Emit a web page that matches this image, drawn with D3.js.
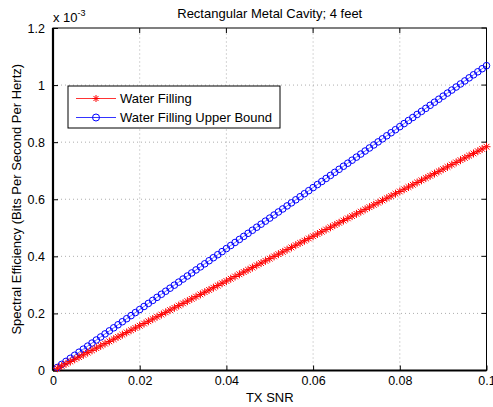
<!DOCTYPE html>
<html><head><meta charset="utf-8">
<script src="https://cdn.jsdelivr.net/npm/d3@7"></script>
<style>body{margin:0;background:#fff}svg{display:block;font-family:"Liberation Sans",Arial,sans-serif}</style>
</head><body>
<script>
const title = "Rectangular Metal Cavity; 4 feet";
const xLabel = "TX SNR";
const yLabel = "Spectral Efficiency (Bits Per Second Per Hertz)";
const seriesNames = ["Water Filling", "Water Filling Upper Bound"];
const xTicks = [0, 0.02, 0.04, 0.06, 0.08, 0.1];
const xTickLabels = ["0", "0.02", "0.04", "0.06", "0.08", "0.1"];
const yTicks = [0, 0.2, 0.4, 0.6, 0.8, 1, 1.2];
const yTickLabels = ["0", "0.2", "0.4", "0.6", "0.8", "1", "1.2"];
const yExponent = "-3";
const snr = [0.001,0.002,0.003,0.004,0.005,0.006,0.007,0.008,0.009,0.010,
0.011,0.012,0.013,0.014,0.015,0.016,0.017,0.018,0.019,0.020,
0.021,0.022,0.023,0.024,0.025,0.026,0.027,0.028,0.029,0.030,
0.031,0.032,0.033,0.034,0.035,0.036,0.037,0.038,0.039,0.040,
0.041,0.042,0.043,0.044,0.045,0.046,0.047,0.048,0.049,0.050,
0.051,0.052,0.053,0.054,0.055,0.056,0.057,0.058,0.059,0.060,
0.061,0.062,0.063,0.064,0.065,0.066,0.067,0.068,0.069,0.070,
0.071,0.072,0.073,0.074,0.075,0.076,0.077,0.078,0.079,0.080,
0.081,0.082,0.083,0.084,0.085,0.086,0.087,0.088,0.089,0.090,
0.091,0.092,0.093,0.094,0.095,0.096,0.097,0.098,0.099,0.100];
// values in units of 1e-3
const waterFilling = [0.0078,0.0157,0.0235,0.0314,0.0392,0.0470,0.0549,0.0627,0.0706,0.0784,
0.0862,0.0941,0.1019,0.1098,0.1176,0.1254,0.1333,0.1411,0.1490,0.1568,
0.1646,0.1725,0.1803,0.1882,0.1960,0.2038,0.2117,0.2195,0.2274,0.2352,
0.2430,0.2509,0.2587,0.2666,0.2744,0.2822,0.2901,0.2979,0.3058,0.3136,
0.3214,0.3293,0.3371,0.3450,0.3528,0.3606,0.3685,0.3763,0.3842,0.3920,
0.3998,0.4077,0.4155,0.4234,0.4312,0.4390,0.4469,0.4547,0.4626,0.4704,
0.4782,0.4861,0.4939,0.5018,0.5096,0.5174,0.5253,0.5331,0.5410,0.5488,
0.5566,0.5645,0.5723,0.5802,0.5880,0.5958,0.6037,0.6115,0.6194,0.6272,
0.6350,0.6429,0.6507,0.6586,0.6664,0.6742,0.6821,0.6899,0.6978,0.7056,
0.7134,0.7213,0.7291,0.7370,0.7448,0.7526,0.7605,0.7683,0.7762,0.7840];
const upperBound = [0.0107,0.0214,0.0320,0.0427,0.0534,0.0641,0.0748,0.0854,0.0961,0.1068,
0.1175,0.1282,0.1388,0.1495,0.1602,0.1709,0.1816,0.1922,0.2029,0.2136,
0.2243,0.2350,0.2456,0.2563,0.2670,0.2777,0.2884,0.2990,0.3097,0.3204,
0.3311,0.3418,0.3524,0.3631,0.3738,0.3845,0.3952,0.4058,0.4165,0.4272,
0.4379,0.4486,0.4592,0.4699,0.4806,0.4913,0.5020,0.5126,0.5233,0.5340,
0.5447,0.5554,0.5660,0.5767,0.5874,0.5981,0.6088,0.6194,0.6301,0.6408,
0.6515,0.6622,0.6728,0.6835,0.6942,0.7049,0.7156,0.7262,0.7369,0.7476,
0.7583,0.7690,0.7796,0.7903,0.8010,0.8117,0.8224,0.8330,0.8437,0.8544,
0.8651,0.8758,0.8864,0.8971,0.9078,0.9185,0.9292,0.9398,0.9505,0.9612,
0.9719,0.9826,0.9932,1.0039,1.0146,1.0253,1.0360,1.0466,1.0573,1.0680];

const W = 493, H = 407;
const m = {l: 53, r: 6.5, t: 28, b: 36.5};
const svg = d3.select("body").append("svg").attr("width", W).attr("height", H);
const x = d3.scaleLinear().domain([0, 0.1]).range([m.l, W - m.r]);
const y = d3.scaleLinear().domain([0, 1.2]).range([H - m.b, m.t]);
const x0 = x.range()[0], x1 = x.range()[1], y0 = y.range()[0], y1 = y.range()[1];

// grid
const g = svg.append("g");
g.selectAll(".gx").data(xTicks.slice(1, -1)).join("line")
  .attr("x1", d => x(d)).attr("x2", d => x(d)).attr("y1", y0).attr("y2", y1)
  .attr("stroke", "#777").attr("stroke-width", 0.6).attr("stroke-dasharray", "1,3");
g.selectAll(".gy").data(yTicks.slice(1, -1)).join("line")
  .attr("y1", d => y(d)).attr("y2", d => y(d)).attr("x1", x0).attr("x2", x1)
  .attr("stroke", "#777").attr("stroke-width", 0.6).attr("stroke-dasharray", "1,3");

// axes
const ax = svg.append("g").attr("transform", `translate(0,${y0})`)
  .call(d3.axisBottom(x).tickValues(xTicks).tickFormat((d, i) => xTickLabels[i]).tickSizeInner(-5).tickSizeOuter(0).tickPadding(10));
const ay = svg.append("g").attr("transform", `translate(${x0},0)`)
  .call(d3.axisLeft(y).tickValues(yTicks).tickFormat((d, i) => yTickLabels[i]).tickSizeInner(-5).tickSizeOuter(0).tickPadding(8));
[ax, ay].forEach(a => {
  a.select(".domain").remove();
  a.selectAll("text").attr("font-size", 12.5).attr("fill", "#000").attr("font-family", "Liberation Sans, Arial, sans-serif");
  a.selectAll("line").attr("stroke", "#000");
});
ax.selectAll("text").attr("dy", "0.71em").attr("y", 6);
// right & top ticks
svg.append("g").selectAll("line").data(yTicks).join("line")
  .attr("x1", x1).attr("x2", x1 - 5).attr("y1", d => y(d)).attr("y2", d => y(d)).attr("stroke", "#000");
svg.append("g").selectAll("line").data(xTicks).join("line")
  .attr("y1", y1).attr("y2", y1 + 5).attr("x1", d => x(d)).attr("x2", d => x(d)).attr("stroke", "#000");

// box
svg.append("rect").attr("x", x0).attr("y", y1).attr("width", x1 - x0).attr("height", y0 - y1)
  .attr("fill", "none").attr("stroke", "#000").attr("stroke-width", 1);
svg.append("line").attr("x1", x0).attr("x2", x1).attr("y1", y0).attr("y2", y0).attr("stroke", "#000").attr("stroke-width", 2.2);
svg.append("line").attr("x1", x0).attr("x2", x0).attr("y1", y0).attr("y2", y1).attr("stroke", "#000").attr("stroke-width", 2.2);

// data
const line = d3.line().x(d => x(d[0])).y(d => y(d[1]));
const redData = snr.map((s, i) => [s, waterFilling[i]]);
const blueData = snr.map((s, i) => [s, upperBound[i]]);

function star(cx, cy, r) {
  const k = r * 0.72;
  return `M${cx - r},${cy}L${cx + r},${cy}M${cx},${cy - r}L${cx},${cy + r}` +
         `M${cx - k},${cy - k}L${cx + k},${cy + k}M${cx - k},${cy + k}L${cx + k},${cy - k}`;
}

svg.append("path").datum(blueData).attr("d", line).attr("fill", "none").attr("stroke", "#0000ff").attr("stroke-width", 0.6);
svg.append("g").selectAll("circle").data(blueData).join("circle")
  .attr("cx", d => x(d[0])).attr("cy", d => y(d[1])).attr("r", 3.3)
  .attr("fill", "none").attr("stroke", "#0000ff").attr("stroke-width", 1);

svg.append("path").datum(redData).attr("d", line).attr("fill", "none").attr("stroke", "#ff0000").attr("stroke-width", 0.6);
svg.append("g").selectAll("path").data(redData).join("path")
  .attr("d", d => star(x(d[0]), y(d[1]), 4))
  .attr("fill", "none").attr("stroke", "#ff0000").attr("stroke-width", 1);

// exponent label
const ex = svg.append("text").attr("x", x0).attr("y", 21.5).attr("font-size", 13).attr("fill", "#000");
ex.append("tspan").text("x 10");
ex.append("tspan").attr("font-size", 9).attr("dy", -6).text(yExponent);

// title and labels
svg.append("text").attr("x", (x0 + x1) / 2).attr("y", 18).attr("text-anchor", "middle")
  .attr("font-size", 13).text(title);
svg.append("text").attr("x", (x0 + x1) / 2).attr("y", 402).attr("text-anchor", "middle")
  .attr("font-size", 13).text(xLabel);
svg.append("text").attr("transform", `translate(21,${(y0 + y1) / 2}) rotate(-90)`).attr("text-anchor", "middle")
  .attr("font-size", 13).text(yLabel);

// legend
const lg = svg.append("g");
lg.append("rect").attr("x", 68).attr("y", 86).attr("width", 212).attr("height", 42)
  .attr("fill", "#fff").attr("stroke", "#000").attr("stroke-width", 1);
const rows = [{name: seriesNames[0], color: "#ff0000", type: "star", yy: 98.5},
              {name: seriesNames[1], color: "#0000ff", type: "circle", yy: 117.5}];
rows.forEach(r => {
  lg.append("line").attr("x1", 76).attr("x2", 116).attr("y1", r.yy).attr("y2", r.yy).attr("stroke", r.color).attr("stroke-width", 0.8);
  if (r.type === "star") lg.append("path").attr("d", star(96, r.yy, 3.5)).attr("stroke", r.color).attr("fill", "none");
  else lg.append("circle").attr("cx", 96).attr("cy", r.yy).attr("r", 3.5).attr("stroke", r.color).attr("fill", "none");
  lg.append("text").attr("x", 120).attr("y", r.yy + 4.5).attr("font-size", 13).text(r.name);
});
</script>
</body></html>
